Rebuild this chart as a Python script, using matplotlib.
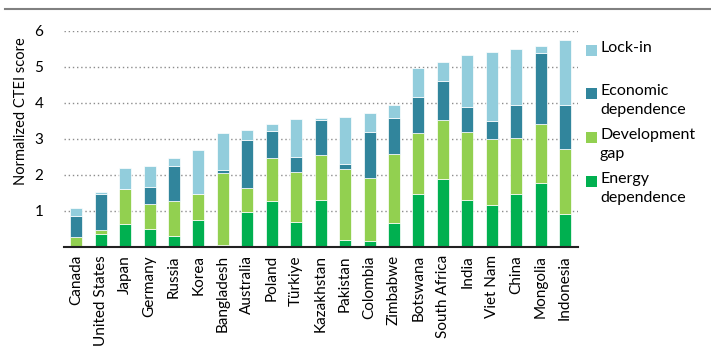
import matplotlib
matplotlib.use("Agg")
import matplotlib.pyplot as plt
from matplotlib.lines import Line2D
from matplotlib.patches import Rectangle
import numpy as np

plt.rcParams['font.family'] = ['Lato', 'DejaVu Sans']

# countries and the four CTEI components
countries = ['Canada', 'United States', 'Japan', 'Germany', 'Russia', 'Korea',
             'Bangladesh', 'Australia', 'Poland', 'Türkiye', 'Kazakhstan',
             'Pakistan', 'Colombia', 'Zimbabwe', 'Botswana', 'South Africa',
             'India', 'Viet Nam', 'China', 'Mongolia', 'Indonesia']
energy = [0.03, 0.35, 0.64, 0.50, 0.31, 0.75, 0.06, 0.97, 1.28, 0.69, 1.31,
          0.19, 0.16, 0.67, 1.47, 1.88, 1.30, 1.17, 1.47, 1.78, 0.92]
development = [0.25, 0.11, 0.97, 0.68, 0.96, 0.72, 1.98, 0.65, 1.18, 1.40, 1.23,
               1.96, 1.75, 1.91, 1.69, 1.65, 1.90, 1.83, 1.55, 1.63, 1.79]
economic = [0.57, 1.01, 0.0, 0.49, 0.97, 0.0, 0.10, 1.34, 0.76, 0.41, 0.98,
            0.16, 1.28, 1.00, 1.01, 1.09, 0.68, 0.51, 0.92, 1.99, 1.23]
lockin = [0.23, 0.05, 0.59, 0.58, 0.22, 1.22, 1.01, 0.29, 0.19, 1.05, 0.07,
          1.30, 0.52, 0.36, 0.79, 0.52, 1.44, 1.91, 1.56, 0.17, 1.80]

series = [
    (energy, '#00B050', 'Energy\ndependence'),
    (development, '#92D050', 'Development\ngap'),
    (economic, '#31859C', 'Economic\ndependence'),
    (lockin, '#92CDDC', 'Lock-in'),
]

W, H = 711, 352
fig = plt.figure(figsize=(W / 100, H / 100), dpi=100)
ax = fig.add_axes([64 / W, 1 - 246.7 / H, 514 / W, 215.7 / H])

x = np.arange(len(countries))
bottom = np.zeros(len(countries))
for vals, color, label in series:
    ax.bar(x, vals, width=0.49, bottom=bottom, color=color,
           edgecolor='#ffffff', linewidth=0.5, zorder=3)
    bottom += np.array(vals)

ax.set_xlim(-0.5, 20.53)
ax.set_ylim(0, 6)
ax.set_yticks([1, 2, 3, 4, 5, 6])
ax.set_xticks(x)
ax.set_xticklabels(countries, rotation=90)
ax.tick_params(axis='both', length=0, labelsize=11, colors='#000000')
ax.tick_params(axis='y', pad=15)
ax.tick_params(axis='x', pad=6)
ax.yaxis.grid(True, linestyle=(0, (1, 2)), color='#8c8c8c', linewidth=1.0, zorder=0)
for s in ['left', 'right', 'top']:
    ax.spines[s].set_visible(False)
ax.spines['bottom'].set_color('#222222')
ax.spines['bottom'].set_linewidth(1.5)
ax.spines['bottom'].set_zorder(4)
ax.set_ylabel('Normalized CTEI score', fontsize=10.5)
ax.yaxis.set_label_coords((28 - 64) / 514, (246.7 - 111) / 215.7)

# legend drawn by hand so the line spacing follows the original
legend_items = [('Lock-in', '#92CDDC', 50),
                ('Economic\ndependence', '#31859C', 93),
                ('Development\ngap', '#92D050', 137),
                ('Energy\ndependence', '#00B050', 181)]
for text, color, ypix in legend_items:
    fig.add_artist(Rectangle((586 / W, 1 - (ypix + 5.5) / H), 11 / W, 11 / H,
                             transform=fig.transFigure, facecolor=color,
                             edgecolor='none'))
    fig.text(600 / W, 1 - (ypix - 9) / H, text, fontsize=11.5, ha='left',
             va='top', linespacing=1.45)

# grey rule across the top of the figure
fig.add_artist(Line2D([5 / W, 1.0], [1 - 9 / H, 1 - 9 / H], color='#808080', linewidth=1.5))

fig.savefig('out.png', dpi=100)
